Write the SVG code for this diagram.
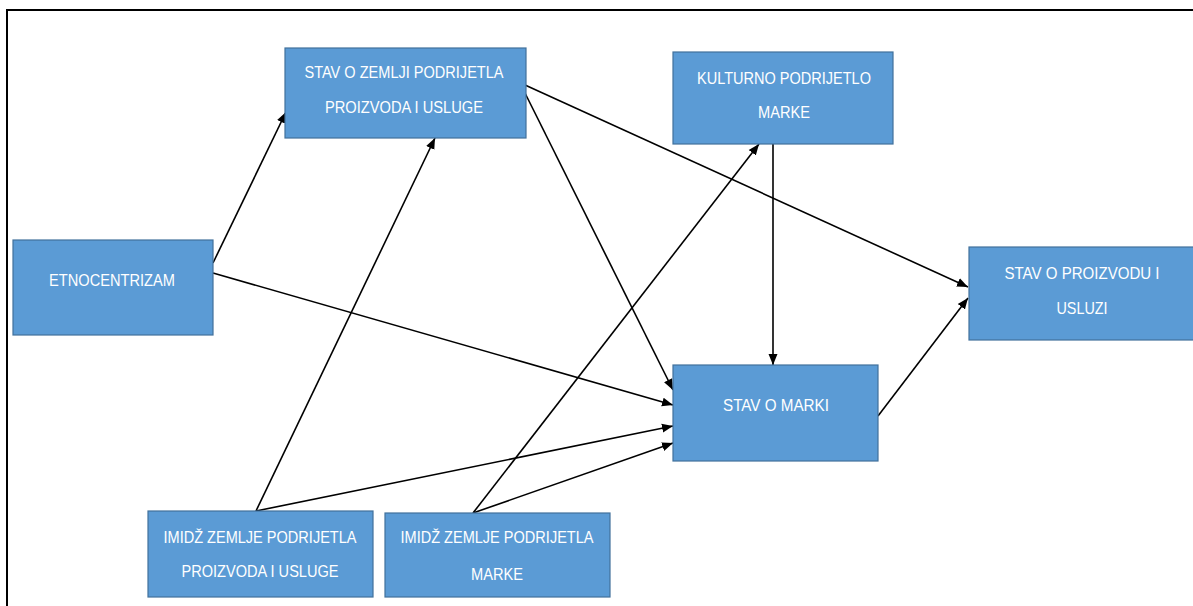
<svg xmlns="http://www.w3.org/2000/svg" width="1193" height="606" viewBox="0 0 1193 606">
<style>
.box{fill:#5B9BD5;stroke:#41719C;stroke-width:1.2}
.t{fill:#ffffff;font-family:"Liberation Sans",Arial,sans-serif;font-size:17px;text-anchor:middle}
.c{stroke:#000;stroke-width:1.6;fill:none;marker-end:url(#ah)}
.frame{stroke:#000;stroke-width:2;fill:none}
</style>
<defs>
<marker id="ah" markerUnits="userSpaceOnUse" markerWidth="12" markerHeight="10" refX="11" refY="5" orient="auto">
<path d="M0,0.5 L11,5 L0,9.5 z" fill="#000"/>
</marker>
</defs>
<rect width="1193" height="606" fill="#fff"/>
<path class="frame" d="M7,606 V10 H1193"/>
<g id="connectors">
<line class="c" x1="213" y1="263" x2="286" y2="112"/>
<line class="c" x1="213" y1="273" x2="673" y2="405"/>
<line class="c" x1="525" y1="85" x2="968" y2="287"/>
<line class="c" x1="525" y1="93" x2="673" y2="390"/>
<line class="c" x1="773" y1="144" x2="773" y2="365"/>
<line class="c" x1="878" y1="416" x2="968" y2="298"/>
<line class="c" x1="256" y1="511" x2="435" y2="138"/>
<line class="c" x1="256" y1="511" x2="673" y2="426"/>
<line class="c" x1="473" y1="513" x2="759" y2="144"/>
<line class="c" x1="473" y1="513" x2="673" y2="443"/>
</g>
<g id="stav-zemlji">
<rect class="box" x="285" y="48" width="241" height="90"/>
<text class="t" x="404" y="78" textLength="199" lengthAdjust="spacingAndGlyphs">STAV O ZEMLJI PODRIJETLA</text>
<text class="t" x="404" y="113" textLength="158" lengthAdjust="spacingAndGlyphs">PROIZVODA I USLUGE</text>
</g>
<g id="kulturno">
<rect class="box" x="673" y="52" width="220" height="92"/>
<text class="t" x="784" y="84" textLength="174" lengthAdjust="spacingAndGlyphs">KULTURNO PODRIJETLO</text>
<text class="t" x="784" y="118" textLength="52" lengthAdjust="spacingAndGlyphs">MARKE</text>
</g>
<g id="stav-proizvod">
<rect class="box" x="969" y="247" width="230" height="93"/>
<text class="t" x="1082" y="279" textLength="155" lengthAdjust="spacingAndGlyphs">STAV O PROIZVODU I</text>
<text class="t" x="1082" y="314" textLength="51" lengthAdjust="spacingAndGlyphs">USLUZI</text>
</g>
<g id="etnocentrizam">
<rect class="box" x="13" y="240" width="200" height="95"/>
<text class="t" x="112" y="286" textLength="126" lengthAdjust="spacingAndGlyphs">ETNOCENTRIZAM</text>
</g>
<g id="stav-marki">
<rect class="box" x="673" y="365" width="205" height="96"/>
<text class="t" x="776" y="411" textLength="106" lengthAdjust="spacingAndGlyphs">STAV O MARKI</text>
</g>
<g id="imidz-proizvoda">
<rect class="box" x="148" y="511" width="225" height="86"/>
<text class="t" x="260" y="543" textLength="193" lengthAdjust="spacingAndGlyphs">IMIDŽ ZEMLJE PODRIJETLA</text>
<text class="t" x="260" y="577" textLength="157" lengthAdjust="spacingAndGlyphs">PROIZVODA I USLUGE</text>
</g>
<g id="imidz-marke">
<rect class="box" x="385" y="513" width="225" height="84"/>
<text class="t" x="497" y="543" textLength="193" lengthAdjust="spacingAndGlyphs">IMIDŽ ZEMLJE PODRIJETLA</text>
<text class="t" x="497" y="580" textLength="52" lengthAdjust="spacingAndGlyphs">MARKE</text>
</g>
</svg>
